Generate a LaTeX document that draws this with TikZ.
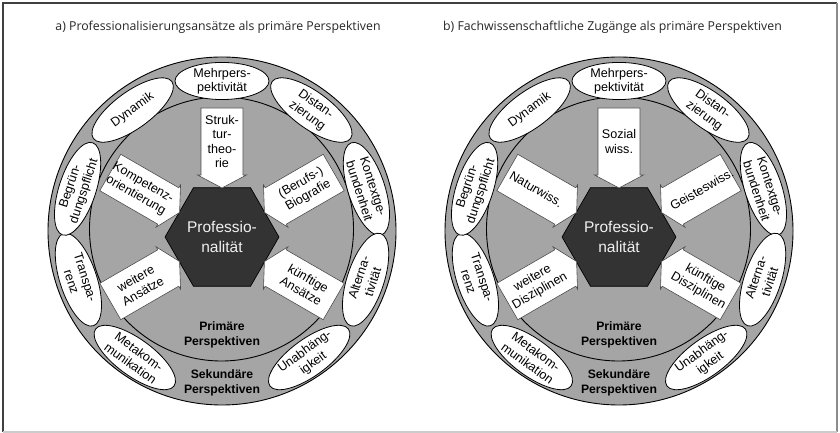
\documentclass[tikz,border=0pt]{standalone}
\usepackage{fontspec}
\setmainfont{Liberation Sans}
\newfontfamily\titlefont{Open Sans}
\usetikzlibrary{shapes.geometric,calc}
\definecolor{ringgray}{HTML}{A5A5A5}
\definecolor{hexgray}{HTML}{333333}
\definecolor{hextext}{HTML}{F0F0F0}
\definecolor{titlegray}{HTML}{262626}
\tikzset{
  ringcircle/.style={circle, draw=black, line width=0.9pt, fill=ringgray, inner sep=0pt},
  ell/.style={ellipse, draw=black, line width=0.8pt, fill=white, minimum width=97pt, minimum height=37pt, inner sep=0pt, align=center, font=\fontsize{12.6}{14.5}\selectfont},
  hexa/.style={regular polygon, regular polygon sides=6, minimum size=100pt, inner sep=0pt, draw=black, line width=0.7pt, fill=hexgray, text=hextext, align=center, font=\fontsize{15.5}{19.5}\selectfont},
  arrowshape/.style={draw=black!70, line width=0.6pt, fill=white},
  arrowlabel/.style={align=center, inner sep=0pt, font=\fontsize{12.6}{14.5}\selectfont},
  boldlabel/.style={align=center, inner sep=0pt, font=\fontsize{12.2}{14.5}\selectfont\bfseries},
  titlelabel/.style={inner sep=0pt, text=titlegray, font=\titlefont\fontsize{12.3}{14}\selectfont},
}
% arrow: #1 name, #2 position angle, #3 arrow rotation, #4 text rotation, #5 text
\newcommand\parr[5]{%
  \begin{scope}[shift={($(222,196)+(#2:49)$)}, rotate=#3]
    \draw[arrowshape] (0,0) -- (-13,24.5) -- (-13,21) -- (-80,21) -- (-80,-21) -- (-13,-21) -- (-13,-24.5) -- cycle;
    \node[arrowlabel, rotate=#4] (#1) at (-46.5,0) {#5};
  \end{scope}}
% wheel: #1 prefix, #2 xshift, #3..#7 arrow texts (top, upper left, upper right, lower left, lower right)
\newcommand\wheel[7]{%
  \begin{scope}[xshift=#2]
    \node[ringcircle, minimum size=348pt] (#1-outer) at (222,202) {};
    \node[ringcircle, minimum size=264pt] (#1-inner) at (221.5,204) {};
    \node[ell, minimum width=94pt, minimum height=33pt] (#1-mehr) at ($(222,200)+(90:152)$) {Mehrpers-\\pektivität};
    \node[ell, rotate=-36] (#1-dist) at ($(222,200)+(54:152)$) {Distan-\\zierung};
    \node[ell, rotate=-72] (#1-kont) at ($(222,200)+(17:151)$) {Kontextge-\\bundenheit};
    \node[ell, rotate=72] (#1-alt) at ($(222,200)+(-18:151)$) {Alterna-\\tivität};
    \node[ell, rotate=36] (#1-unab) at ($(222,200)+(-55:152)$) {Unabhäng-\\igkeit};
    \node[ell, rotate=-36] (#1-meta) at ($(222,200)+(-125:152)$) {Metakom-\\munikation};
    \node[ell, rotate=-72] (#1-trans) at ($(222,200)+(-162:151)$) {Transpa-\\renz};
    \node[ell, rotate=72] (#1-begr) at ($(222,200)+(163:151)$) {Begrün-\\dungspflicht};
    \node[ell, rotate=36] (#1-dyn) at ($(222,200)+(126:152)$) {Dynamik};
    \node[hexa] (#1-hex) at (222,196) {Professio-\\nalität};
    \parr{#1-top}{90}{270}{0}{#3}
    \parr{#1-ul}{150}{330}{-30}{#4}
    \parr{#1-ur}{30}{210}{30}{#5}
    \parr{#1-ll}{210}{30}{30}{#6}
    \parr{#1-lr}{330}{150}{-30}{#7}
    \node[boldlabel] (#1-prim) at (222,98) {Primäre\\Perspektiven};
    \node[boldlabel] (#1-sek) at (222,50) {Sekundäre\\Perspektiven};
  \end{scope}}
\begin{document}
\begin{tikzpicture}[x=1pt,y=1pt]
\useasboundingbox (0,0) rectangle (840,433);
\fill[white] (0,0) rectangle (840,433);
\coordinate (frTL) at (3,430);
\coordinate (frTR) at (837,430);
\coordinate (frBL) at (3,1);
\coordinate (frBR) at (837,1);
\draw[line width=1.3pt, black!75] (frBL) -- (frTL) -- (frTR);
\draw[line width=2pt, black!45] (frTR) -- (frBR);
\draw[line width=1.5pt, black!20] (frBL) -- (frBR);
\node[titlelabel] (ta) at (218,406) {a) Professionalisierungsansätze als primäre Perspektiven};
\node[titlelabel] (tb) at (612.5,406) {b) Fachwissenschaftliche Zugänge als primäre Perspektiven};
\wheel{a}{0pt}{Struk-\\tur-\\theo-\\rie}{Kompetenz-\\orientierung}{(Berufs-)\\Biografie}{weitere\\Ansätze}{künftige\\Ansätze}
\wheel{b}{397pt}{Sozial\\wiss.}{Naturwiss.}{Geisteswiss.}{weitere\\Disziplinen}{künftige\\Disziplinen}
\end{tikzpicture}
\end{document}
